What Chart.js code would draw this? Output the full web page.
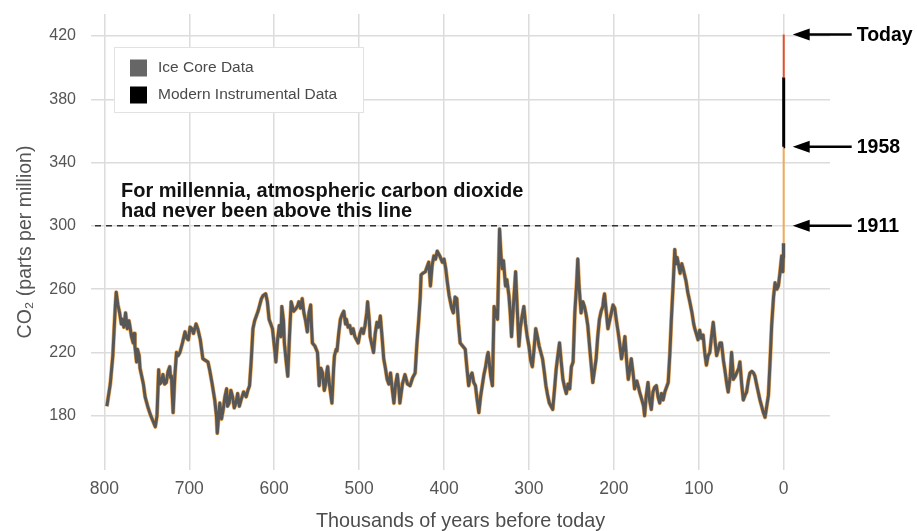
<!DOCTYPE html>
<html>
<head>
<meta charset="utf-8">
<script src="https://cdn.jsdelivr.net/npm/chart.js@4.4.1/dist/chart.umd.min.js"></script>
<style>
  html, body { margin: 0; padding: 0; background: #fff; }
  #wrap { width: 917px; height: 531px; position: relative; }
</style>
</head>
<body>
<div id="wrap"><canvas id="co2Chart"></canvas></div>
<script>
// --- data (thousands of years before today, ppm) ---
const iceYears = [
  797, 793, 790, 787, 786, 784, 782, 780, 779, 777, 775, 773, 771, 770, 768, 766, 765, 764, 762, 761, 759, 758, 756, 754, 752, 749, 746, 743, 740, 738,
  736, 735, 733, 731, 729, 727, 725, 723, 722, 721, 719, 717, 715, 713, 711, 708, 705, 703, 701, 699, 697, 695, 692, 690, 687, 684, 681, 678, 676, 673,
  670, 668, 667, 665, 664, 662, 660, 658, 656, 655, 653, 651, 649, 647, 645, 643, 641, 639, 636, 633, 631, 629, 627, 625, 623, 621, 619, 617, 615, 613,
  610, 608, 606, 604, 602, 600, 598, 596, 594, 592, 591, 589, 588, 586, 584, 582, 580, 577, 574, 572, 571, 569, 567, 565, 563, 561, 559, 557, 556, 555,
  552, 549, 548, 547, 545, 543, 541, 539, 538, 537, 535, 532, 530, 529, 527, 526, 524, 522, 520, 518, 516, 515, 513, 511, 509, 507, 505, 503, 501, 499,
  497, 495, 493, 491, 490, 488, 487, 485, 483, 481, 479, 477, 475, 473, 471, 469, 467, 465, 463, 461, 459, 457, 455, 453, 452, 449, 446, 443, 440, 437,
  434, 432, 430, 428, 427, 425, 422, 420, 418, 417, 416, 414, 412, 410, 408, 405, 402, 400, 398, 396, 394, 391, 389, 387, 385, 383, 381, 378, 375, 373,
  371, 369, 367, 365, 363, 361, 359, 357, 355, 353, 351, 349, 348, 345, 343, 342, 341, 339, 337, 336, 334.6, 333, 331.5, 330, 327.6, 326, 323.6, 322, 320.5, 318,
  315.7, 314, 311.8, 310, 308, 306, 304, 302, 300, 298, 296, 294, 292, 290, 288, 286, 284, 282, 280, 278, 276, 274, 272, 270, 268, 266, 264, 262, 260, 258,
  256, 254, 252, 250, 248, 246, 244, 242.5, 241, 238.6, 236.5, 234.6, 232.7, 230.7, 228, 226, 224.8, 223, 220.9, 219, 217, 215, 213, 212, 211, 209, 207, 205, 203, 201,
  199, 197, 195, 193, 191, 189, 187, 185, 183, 181, 179.5, 177, 175.6, 173, 171, 169.7, 167, 165, 163.8, 162, 159.8, 158, 155.9, 154, 152, 150, 148, 146, 144, 142,
  140, 138, 136, 134, 132.3, 130, 128.3, 127, 125.5, 124.4, 122, 120, 118.5, 115, 113, 110.6, 108, 106, 104.7, 103, 100.8, 99, 97, 94.9, 93, 91, 89, 87, 85, 83,
  81, 79, 77, 75, 73.3, 71, 69.3, 67, 65.4, 63, 61.4, 60, 59.4, 57, 55.5, 53, 51.6, 49.5, 47.6, 45.5, 43.7, 41.7, 39.8, 37.5, 35.5, 33.9, 32, 30, 28, 26,
  24, 22, 20, 18, 16, 14.2, 12, 10.2, 8, 6.3, 4.5, 2.4, 1.5, 1.0, 0.5, 0.3, 0.2, 0.1, 0.066
];
const iceCO2 = [
  186, 200, 218, 250, 258, 250, 245, 238, 241, 236, 245, 235, 240, 237, 230, 226, 232, 224, 214, 222, 218, 210, 205, 200, 192, 186, 181, 177, 173, 180,
  209, 200, 201, 206, 200, 201, 208, 211, 204, 205, 182, 205, 220, 218, 220, 226, 233, 229, 228, 236, 235, 232, 238, 235, 228, 216, 215, 214, 209, 200,
  190, 180, 169, 182, 188, 178, 184, 192, 197, 186, 188, 196, 192, 185, 188, 194, 186, 190, 195, 192, 196, 199, 215, 235, 240, 243, 246, 250, 254, 256,
  257, 252, 241, 238, 235, 225, 214, 228, 237, 230, 249, 240, 226, 215, 205, 230, 252, 246, 248, 250, 252, 248, 254, 245, 240, 233, 245, 250, 236, 226,
  224, 220, 210, 199, 210, 207, 196, 201, 208, 211, 200, 188, 210, 218, 222, 221, 232, 241, 244, 246, 238, 241, 236, 237, 232, 235, 230, 228, 226, 232,
  235, 232, 237, 245, 252, 240, 230, 225, 220, 232, 239, 236, 243, 230, 216, 210, 203, 200, 207, 197, 188, 200, 206, 196, 188, 200, 206, 200, 199, 204,
  207, 225, 239, 255, 269, 270, 271, 274, 277, 270, 262, 275, 281, 279, 284, 281, 277, 279, 273, 264, 256, 248, 245, 255, 254, 238, 226, 224, 222, 210,
  199, 205, 207, 201, 199, 190, 182, 192, 199, 206, 211, 218, 220, 205, 199, 225, 249, 244, 241, 265, 298, 282, 273, 278, 262, 266, 256, 245, 230, 252,
  271, 250, 224, 236, 243, 249, 238, 230, 224, 215, 211, 222, 235, 230, 224, 220, 216, 208, 199, 193, 188, 186, 184, 196, 209, 218, 226, 214, 203, 198,
  194, 200, 197, 211, 214, 245, 262, 279, 262, 245, 252, 249, 244, 237, 220, 208, 201, 208, 216, 230, 241, 246, 249, 254, 257, 246, 235, 240, 245, 250,
  248, 240, 233, 225, 216, 222, 230, 215, 203, 210, 216, 205, 197, 202, 198, 195, 190, 186, 180, 192, 201, 190, 184, 195, 198, 199, 192, 188, 194, 190,
  195, 198, 201, 220, 241, 265, 285, 276, 280, 277, 270, 276, 273, 265, 258, 252, 245, 238, 235, 232, 228, 234, 229, 231, 220, 212, 218, 220, 230, 239,
  228, 218, 222, 226, 226, 215, 209, 200, 195, 205, 220, 210, 203, 205, 207, 210, 214, 200, 190, 193, 195, 202, 207, 208, 207, 205, 200, 195, 190, 186,
  182, 179, 186, 193, 215, 237, 255, 264, 260, 262, 270, 281, 276, 271, 280, 285, 289, 300, 350
];
const modernYears = [0.065, 0.04, 0.02, 0];
const modernCO2 = [350, 372, 394, 421];

const xTicks = [800, 700, 600, 500, 400, 300, 200, 100, 0];
const yTicks = [180, 220, 260, 300, 340, 380, 420];

const arrowLabels = ['Today', '1958', '1911'];
const arrowValues = [421, 350, 300];
const noteLines = ['For millennia, atmospheric carbon dioxide', 'had never been above this line'];
const thresholdCO2 = 300;

const iceData = iceYears.map((x, i) => ({ x: x, y: iceCO2[i] }));
const modernData = modernYears.map((x, i) => ({ x: x, y: modernCO2[i] }));

const FONT = '"Liberation Sans", Arial, Helvetica, sans-serif';

// draws the dashed line, arrows, note and the boxed legend
const annotations = {
  id: 'annotations',
  afterDatasetsDraw(chart) {
    const ctx = chart.ctx;
    const xs = chart.scales.x, ys = chart.scales.y;
    const area = chart.chartArea;

    ctx.save();
    // dashed threshold line
    const yLine = ys.getPixelForValue(thresholdCO2);
    ctx.strokeStyle = '#333';
    ctx.lineWidth = 1.5;
    ctx.setLineDash([6, 5]);
    ctx.beginPath();
    ctx.moveTo(area.left + 4, yLine);
    ctx.lineTo(xs.getPixelForValue(8), yLine);
    ctx.stroke();
    ctx.setLineDash([]);

    // note text
    ctx.fillStyle = '#111';
    ctx.font = 'bold 20px ' + FONT;
    ctx.textBaseline = 'alphabetic';
    ctx.textAlign = 'left';
    ctx.fillText(noteLines[0], area.left + 30, yLine - 29);
    ctx.fillText(noteLines[1], area.left + 30, yLine - 9);

    // arrows on the right
    const tipX = xs.getPixelForValue(0) + 9;
    arrowValues.forEach((v, i) => {
      const y = ys.getPixelForValue(v);
      ctx.fillStyle = '#000';
      ctx.strokeStyle = '#000';
      ctx.lineWidth = 2.5;
      ctx.beginPath();
      ctx.moveTo(tipX + 14, y);
      ctx.lineTo(tipX + 59, y);
      ctx.stroke();
      ctx.beginPath();
      ctx.moveTo(tipX, y);
      ctx.lineTo(tipX + 17, y - 6);
      ctx.lineTo(tipX + 17, y + 6);
      ctx.closePath();
      ctx.fill();
      ctx.font = 'bold 19.5px ' + FONT;
      ctx.textBaseline = 'middle';
      ctx.fillText(arrowLabels[i], tipX + 64, y + 1);
    });

    // legend box
    const lx = area.left + 23, ly = area.top + 33;
    ctx.fillStyle = '#fff';
    ctx.fillRect(lx, ly, 249, 65);
    ctx.strokeStyle = '#e2e2e2';
    ctx.lineWidth = 1;
    ctx.strokeRect(lx + 0.5, ly + 0.5, 249, 65);
    const items = [
      { label: chart.data.datasets[1].label, color: '#666' },
      { label: chart.data.datasets[2].label, color: '#000' }
    ];
    ctx.font = '15.5px ' + FONT;
    ctx.textBaseline = 'middle';
    items.forEach((it, i) => {
      const cy = ly + 21 + i * 27;
      ctx.fillStyle = it.color;
      ctx.fillRect(lx + 16, cy - 8.5, 17, 17);
      ctx.fillStyle = '#4a4a4a';
      ctx.fillText(it.label, lx + 44, cy);
    });
    ctx.restore();
  }
};

// the last ice core stretch (after 1911) shows only as a thin tan line
const lateIce = c => c.p1.parsed.x <= 0.1;

new Chart(document.getElementById('co2Chart'), {
  type: 'scatter',
  data: {
    datasets: [
      {
        label: 'outline',
        data: iceData,
        showLine: true,
        borderColor: '#f2aa55',
        borderWidth: 4.2,
        borderJoinStyle: 'round',
        pointRadius: 0,
        order: 3,
        segment: { borderWidth: c => lateIce(c) ? 2 : 4.2 }
      },
      {
        label: 'Ice Core Data',
        data: iceData,
        showLine: true,
        borderColor: '#575757',
        borderWidth: 3,
        borderJoinStyle: 'round',
        pointRadius: 0,
        order: 2,
        segment: { borderColor: c => lateIce(c) ? 'rgba(0,0,0,0)' : '#575757' }
      },
      {
        label: 'Modern Instrumental Data',
        data: modernData,
        showLine: true,
        borderColor: '#000',
        borderWidth: 3,
        pointRadius: 0,
        order: 1,
        segment: {
          borderColor: c => c.p0.parsed.y >= 394 ? '#e2502a' : '#000',
          borderWidth: c => c.p0.parsed.y >= 394 ? 2 : 3
        }
      }
    ]
  },
  options: {
    responsive: true,
    maintainAspectRatio: false,
    animation: false,
    layout: { padding: { top: 14, right: 87, left: 0, bottom: 0 } },
    plugins: {
      legend: { display: false },
      tooltip: { enabled: false }
    },
    scales: {
      x: {
        type: 'linear',
        reverse: true,
        min: -54.5,
        max: 815.7,
        afterBuildTicks: s => { s.ticks = xTicks.map(v => ({ value: v })); },
        afterFit: s => { s.height = 61; s.paddingLeft = 0; s.paddingRight = 0; },
        grid: { color: '#dcdcdc', lineWidth: 1.5, drawTicks: false },
        border: { display: false },
        ticks: { color: '#555', font: { family: FONT, size: 17.5 }, padding: 8.5 },
        title: {
          display: true,
          text: 'Thousands of years before today',
          color: '#4d4d4d',
          font: { family: FONT, size: 19.8, lineHeight: 1 },
          padding: { top: 0, bottom: 0 }
        }
      },
      y: {
        min: 145.7,
        max: 433.9,
        afterBuildTicks: s => { s.ticks = yTicks.map(v => ({ value: v })); },
        afterFit: s => { s.width = 91; s.paddingTop = 0; s.paddingBottom = 0; },
        grid: { color: '#dcdcdc', lineWidth: 1.5, drawTicks: false },
        border: { display: false },
        ticks: { color: '#555', font: { family: FONT, size: 16 }, padding: 15 },
        title: {
          display: true,
          text: 'CO\u2082 (parts per million)',
          color: '#555',
          font: { family: FONT, size: 19.5, lineHeight: 1 },
          padding: { top: 16, bottom: 0 }
        }
      }
    }
  },
  plugins: [annotations]
});
</script>
</body>
</html>
